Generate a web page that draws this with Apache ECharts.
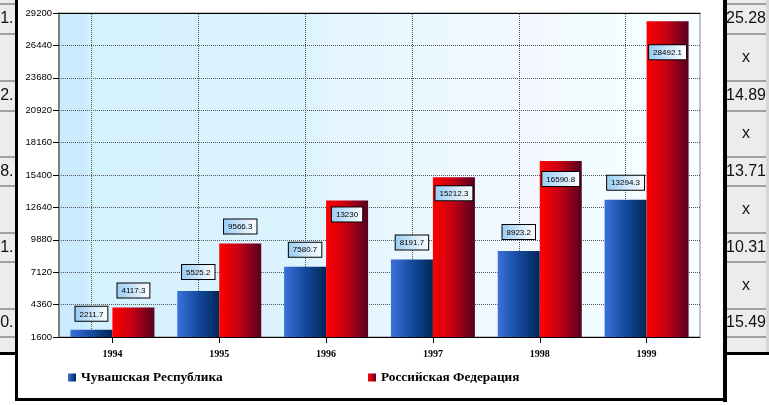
<!DOCTYPE html>
<html><head><meta charset="utf-8">
<script src="https://cdn.jsdelivr.net/npm/echarts@6/dist/echarts.min.js"></script>
<style>html,body{margin:0;padding:0;background:#fff}#c{width:769px;height:405px}</style>
</head><body><div id="c"></div>
<script>
// ---- data ----
const years = ['1994', '1995', '1996', '1997', '1998', '1999'];
const chuvashia = [2211.7, 5525.2, 7580.7, 8191.7, 8923.2, 13294.3];
const russia = [4117.3, 9566.3, 13230, 15212.3, 16590.8, 28492.1];
const yTicks = [1600, 4360, 7120, 9880, 12640, 15400, 18160, 20920, 23680, 26440, 29200];
const seriesNames = ['Чувашская Республика', 'Российская Федерация'];
const leftCellTexts = ['41.', '32.', '78.', '31.', '50.'];
const rightCellTexts = ['25.28', 'x', '14.89', 'x', '13.71', 'x', '10.31', 'x', '15.49'];

// ---- style / layout ----
const blueLabelDist = [9, 12, 10, 10, 12, 10];
const redLabelInside = [false, false, true, true, true, true];
const redLabelDist = [10, 10, 7, 9, 11, 24];
const rowLines = [4, 34, 81, 111, 157, 186, 233, 262, 309, 337];
const rightTextY = [19, 57.5, 96, 134, 171.5, 209.5, 247.5, 285.5, 323];
const leftTextY = [19, 96, 171.5, 247.5, 323];

function lin(stops) {
  return { type: 'linear', x: 0, y: 0, x2: 1, y2: 0,
    colorStops: stops.map(s => ({ offset: s[0], color: s[1] })) };
}
const blueGrad = lin([[0, '#3b72da'], [0.5, '#144a9e'], [1, '#002656']]);
const redGrad = lin([[0, '#ff0000'], [0.45, '#c80012'], [1, '#560020']]);

const labelBase = {
  show: true, fontSize: 8, fontFamily: 'Liberation Sans, Arial, sans-serif', color: '#000',
  backgroundColor: lin([[0, '#98ccf4'], [1, '#ffffff']]),
  borderColor: '#000', borderWidth: 1, padding: [3, 4, 2, 4], lineHeight: 9
};

const graphics = [];
graphics.push({ type: 'rect', shape: { x: 0, y: 0, width: 15, height: 353 }, style: { fill: '#eeebef' }, silent: true });
graphics.push({ type: 'rect', shape: { x: 727, y: 0, width: 39, height: 353 }, style: { fill: '#eeebef' }, silent: true });
graphics.push({ type: 'rect', shape: { x: 766, y: 0, width: 3, height: 353 }, style: { fill: '#d6d6d6' }, silent: true });
rowLines.forEach(y => {
  graphics.push({ type: 'line', shape: { x1: 0, y1: y, x2: 15, y2: y }, style: { stroke: '#555', lineWidth: 1 }, silent: true });
  graphics.push({ type: 'line', shape: { x1: 727, y1: y, x2: 766, y2: y }, style: { stroke: '#555', lineWidth: 1 }, silent: true });
});
leftCellTexts.forEach((t, i) => {
  graphics.push({ type: 'text', x: 13.5, y: leftTextY[i], silent: true,
    style: { text: t, align: 'right', verticalAlign: 'middle', fontSize: 16, fontFamily: 'Liberation Sans, Arial', fill: '#111' } });
});
rightCellTexts.forEach((t, i) => {
  graphics.push({ type: 'text', x: 746, y: rightTextY[i], silent: true,
    style: { text: t, align: 'center', verticalAlign: 'middle', fontSize: 16, fontFamily: 'Liberation Sans, Arial', fill: '#111' } });
});
graphics.push({ type: 'rect', shape: { x: 0, y: 352, width: 15, height: 3 }, style: { fill: '#000' }, silent: true });
graphics.push({ type: 'rect', shape: { x: 727, y: 352, width: 42, height: 3 }, style: { fill: '#000' }, silent: true });
graphics.push({ type: 'rect', shape: { x: 15, y: 0, width: 3, height: 401 }, style: { fill: '#000' }, silent: true });
graphics.push({ type: 'rect', shape: { x: 723, y: 0, width: 4, height: 402 }, style: { fill: '#000' }, silent: true });
graphics.push({ type: 'rect', shape: { x: 15, y: 398, width: 712, height: 3 }, style: { fill: '#000' }, silent: true });

const legendText = { fontFamily: 'Liberation Serif, Times New Roman, serif', fontWeight: 'bold', fontSize: 13.3, color: '#000' };

const option = {
  animation: false,
  backgroundColor: '#fff',
  grid: {
    left: 59, right: 69, top: 13, bottom: 68, show: true,
    borderColor: '#888', borderWidth: 1,
    backgroundColor: lin([[0, '#c9ebfd'], [0.04, '#c9ebfd'], [0.05, '#d4f1fe'], [0.4, '#dcf4fe'], [0.42, '#e4f5fe'], [0.6, '#ecf8ff'], [0.75, '#f3f8ff'], [0.82, '#f2fdff'], [1, '#f6fdff']])
  },
  legend: [
    { data: [seriesNames[0]], left: 68, top: 371, padding: 0, itemWidth: 8, itemHeight: 8, icon: 'rect', textStyle: legendText },
    { data: [seriesNames[1]], left: 368, top: 371, padding: 0, itemWidth: 8, itemHeight: 8, icon: 'rect', textStyle: legendText }
  ],
  xAxis: [
    {
      type: 'category', data: years,
      axisLine: { show: true, lineStyle: { color: '#000', width: 1 } },
      axisTick: { show: true, alignWithLabel: true, length: 6, lineStyle: { color: '#000' } },
      axisLabel: { margin: 12, fontFamily: 'Liberation Serif, Times New Roman, serif', fontWeight: 'bold', fontSize: 10, color: '#000' },
      splitLine: { show: false }
    },
    {
      type: 'category', data: years, position: 'top',
      axisLine: { show: true, lineStyle: { color: '#000', width: 1 } },
      axisTick: { show: false }, axisLabel: { show: false }, splitLine: { show: false }
    }
  ],
  yAxis: {
    type: 'value', min: 1600, max: 29200,
    axisLine: { show: true, lineStyle: { color: '#808080', width: 2 } },
    axisTick: { show: true, length: 6, lineStyle: { color: '#000' }, customValues: yTicks },
    axisLabel: { customValues: yTicks, formatter: v => String(v), fontSize: 9.5, color: '#000', margin: 7, fontFamily: 'Liberation Sans, Arial, sans-serif' },
    splitLine: { show: true, lineStyle: { type: 'dotted', color: '#555', width: 1 } }
  },
  series: [
    {
      name: seriesNames[0], type: 'bar', barWidth: 42, barGap: '0%',
      itemStyle: { color: blueGrad },
      data: chuvashia.map((v, i) => ({ value: v, label: Object.assign({}, labelBase, { position: 'top', distance: blueLabelDist[i] }) })),
      markLine: {
        silent: true, symbol: 'none', z: 1, label: { show: false },
        lineStyle: { type: 'dotted', color: '#555', width: 1 },
        data: years.map(y => ({ xAxis: y }))
      }
    },
    {
      name: seriesNames[1], type: 'bar', barWidth: 42, barGap: '0%',
      itemStyle: { color: redGrad },
      data: russia.map((v, i) => ({ value: v, label: Object.assign({}, labelBase, { position: redLabelInside[i] ? 'insideTop' : 'top', distance: redLabelDist[i] }) }))
    }
  ],
  graphic: graphics
};

const chart = echarts.init(document.getElementById('c'), null, { renderer: 'canvas' });
chart.setOption(option);
</script>
</body></html>
